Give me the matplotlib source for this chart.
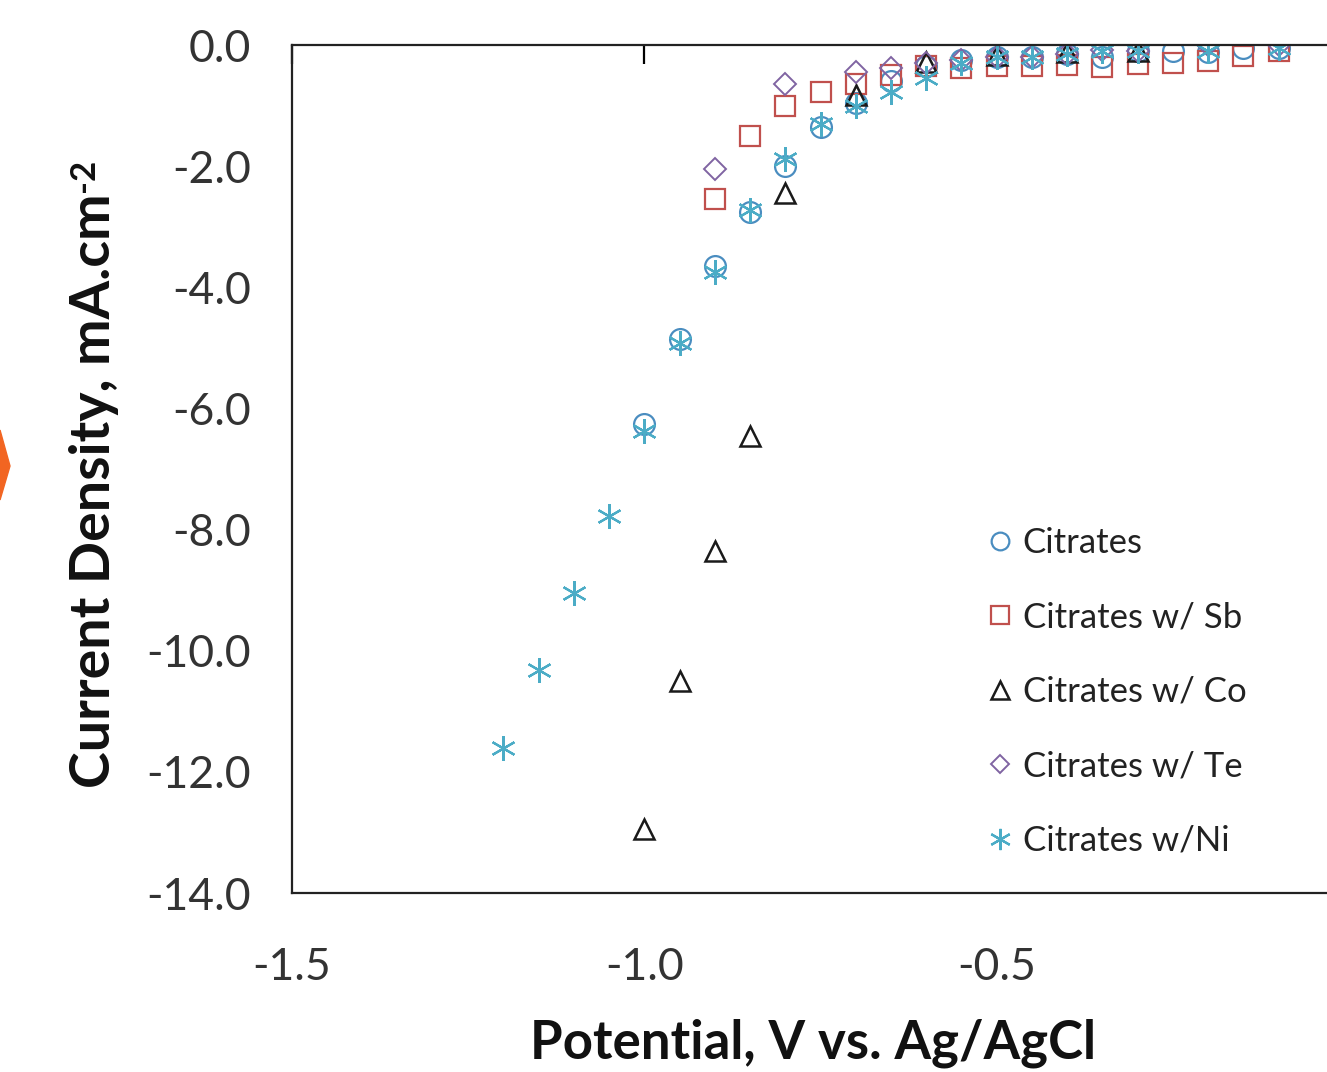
import numpy as np
import matplotlib
matplotlib.use("Agg")
import matplotlib.pyplot as plt
from matplotlib.patches import Polygon

plt.rcParams['font.family'] = ['Lato', 'DejaVu Sans']

# data (potential V, current density mA/cm2)
x_cit = [-1.0, -0.95, -0.9, -0.85, -0.8, -0.75, -0.7, -0.65, -0.6, -0.55, -0.5,
         -0.45, -0.4, -0.35, -0.3, -0.25, -0.2, -0.15, -0.1]
y_cit = [-6.25, -4.85, -3.65, -2.75, -2.0, -1.35, -0.95, -0.6, -0.35, -0.25, -0.2,
         -0.2, -0.15, -0.2, -0.1, -0.1, -0.12, -0.05, -0.05]

x_sb = [-0.9, -0.85, -0.8, -0.75, -0.7, -0.65, -0.6, -0.55, -0.5, -0.45, -0.4,
        -0.35, -0.3, -0.25, -0.2, -0.15, -0.1]
y_sb = [-2.55, -1.5, -1.0, -0.78, -0.65, -0.5, -0.35, -0.38, -0.35, -0.35, -0.33,
        -0.37, -0.32, -0.3, -0.27, -0.18, -0.1]

x_co = [-1.0, -0.95, -0.9, -0.85, -0.8, -0.7, -0.6, -0.5, -0.4, -0.3]
y_co = [-12.95, -10.5, -8.35, -6.45, -2.45, -0.83, -0.28, -0.16, -0.12, -0.1]

x_te = [-0.9, -0.8, -0.7, -0.65, -0.6, -0.55, -0.5, -0.45, -0.4, -0.35, -0.3, -0.2, -0.1]
y_te = [-2.05, -0.65, -0.45, -0.38, -0.3, -0.25, -0.2, -0.2, -0.15, -0.08, -0.1, 0.0, 0.0]

x_ni = [-1.2, -1.15, -1.1, -1.05, -1.0, -0.95, -0.9, -0.85, -0.8, -0.75, -0.7,
        -0.65, -0.6, -0.55, -0.5, -0.45, -0.4, -0.35, -0.3, -0.2, -0.1]
y_ni = [-11.6, -10.32, -9.05, -7.78, -6.38, -4.92, -3.75, -2.72, -1.88, -1.3, -1.0,
        -0.78, -0.55, -0.3, -0.2, -0.2, -0.15, -0.1, -0.1, -0.1, -0.05]

labels = ["Citrates", "Citrates w/ Sb", "Citrates w/ Co", "Citrates w/ Te", "Citrates w/Ni"]
xticks = [-1.5, -1.0, -0.5, 0.0]
xticklabels = ["-1.5", "-1.0", "-0.5", "0"]
yticks = np.arange(-14, 0.1, 2)

fig = plt.figure(figsize=(13.27, 10.72), dpi=100)
ax = fig.add_axes([292/1327, 179/1072, 1057/1327, 848/1072])

ms = 15
ax.plot(x_cit, y_cit, ls='none', marker='o', ms=ms, mfc='none', mec='#4A8DC0', mew=1.6, label=labels[0])
ax.plot(x_sb, y_sb, ls='none', marker='s', ms=ms, mfc='none', mec='#C0504D', mew=1.6, label=labels[1])
ax.plot(x_co, y_co, ls='none', marker='^', ms=ms, mfc='none', mec='#1A1A1A', mew=1.8, label=labels[2])
ax.plot(x_te, y_te, ls='none', marker='D', ms=11, mfc='none', mec='#8064A2', mew=1.4, label=labels[3])
ax.plot(x_ni, y_ni, ls='none', marker=(6, 2, 0), ms=18, mfc='none', mec='#4BACC6', mew=1.6, label=labels[4])

ax.set_xlim(-1.5, 0)
ax.set_ylim(-14, 0)
ax.set_xticks(xticks)
ax.set_xticklabels(xticklabels)
ax.set_yticks(yticks)
ax.set_yticklabels([f"{v:.1f}" for v in yticks])

for s in ['left', 'top', 'bottom', 'right']:
    ax.spines[s].set_linewidth(1.6)
    ax.spines[s].set_color('#222222')

ax.tick_params(axis='x', top=True, bottom=False, labelbottom=True, labeltop=False,
               direction='in', length=14, width=1.6, labelsize=32, labelcolor='#333333', pad=39)
ax.tick_params(axis='y', left=False, labelsize=32, labelcolor='#333333', pad=26)

ax.set_xlabel("Potential, V vs. Ag/AgCl", fontsize=38, fontweight='bold', color='#111111')
ax.xaxis.set_label_coords(0.5 - 8/1057, -125/848)
ax.set_ylabel("Current Density, mA.cm", fontsize=40, fontweight='bold', color='#111111')
ax.yaxis.set_label_coords(-173/1057, 0.5 - 22/848)

# superscript "-2" at the end of the y label
fig.canvas.draw()
bb = ax.yaxis.label.get_window_extent()
fig.text(bb.x0 / 1327 - 0.001, (bb.y1 + 2) / 1072, "-2", rotation=90, fontsize=25,
         fontweight='bold', color='#111111', ha='left', va='bottom')

leg = ax.legend(loc='upper left', bbox_to_anchor=(955/1327, 1 - 496/1072),
                bbox_transform=fig.transFigure, frameon=False, fontsize=25,
                labelspacing=1.22, handlelength=0.8, handletextpad=0.25, markerscale=0.85)
for t in leg.get_texts():
    t.set_color('#222222')

# orange arrow tip at the left edge
fig.patches.append(Polygon([[0, 1 - 430/1072], [10/1327, 1 - 466/1072], [0, 1 - 500/1072]],
                           closed=True, transform=fig.transFigure, color='#F26522', zorder=5))

fig.savefig("out.png", dpi=100)
